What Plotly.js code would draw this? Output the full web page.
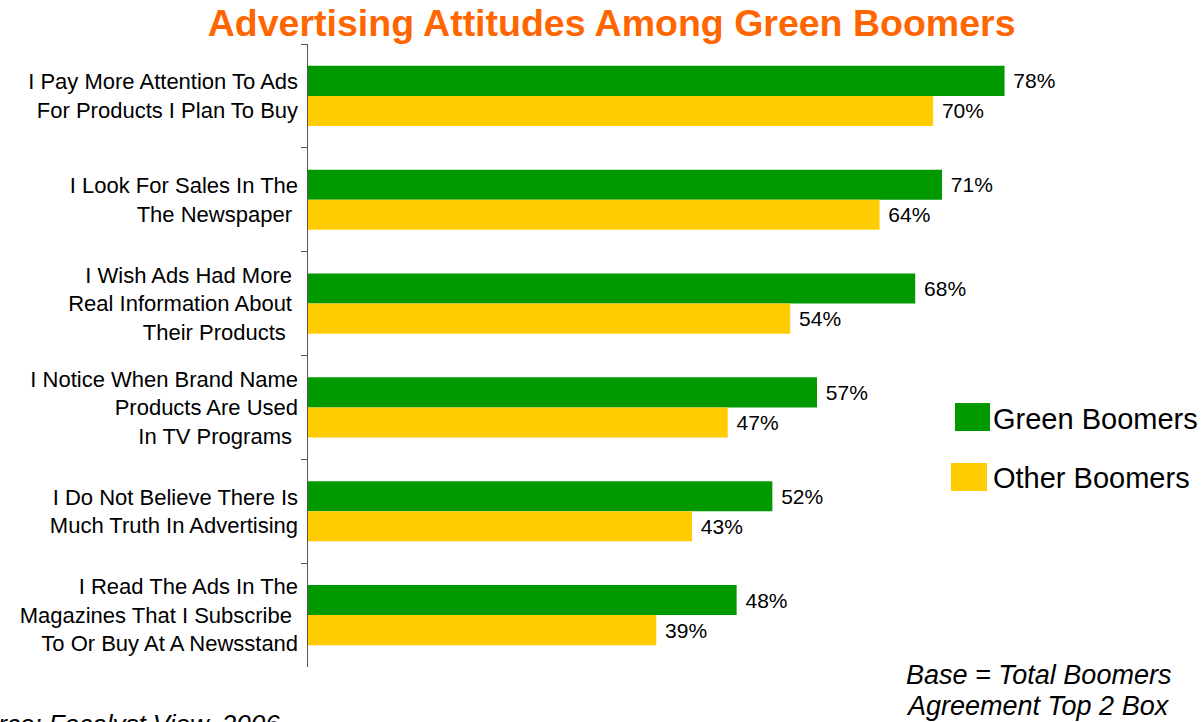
<!DOCTYPE html>
<html>
<head>
<meta charset="utf-8">
<script src="https://cdn.plot.ly/plotly-3.0.1.min.js"></script>
<style>html,body{margin:0;padding:0;background:#fff;}#chart{width:1204px;height:722px;}</style>
</head>
<body>
<div id="chart"></div>
<script>
const NB = '\u00a0';
const categories = [
  'I Pay More Attention To Ads<br>For Products I Plan To Buy',
  'I Look For Sales In The<br>The Newspaper' + NB,
  'I Wish Ads Had More' + NB + '<br>Real Information About' + NB + '<br>Their Products' + NB + NB,
  'I Notice When Brand Name<br>Products Are Used<br>In TV Programs' + NB,
  'I Do Not Believe There Is<br>Much Truth In Advertising',
  'I Read The Ads In The<br>Magazines That I Subscribe' + NB + '<br>To Or Buy At A Newsstand'
];
const greenBoomers = [78, 71, 68, 57, 52, 48];
const otherBoomers = [70, 64, 54, 47, 43, 39];
const seriesNames = ['Green Boomers', 'Other Boomers'];
const seriesColors = ['#009900', '#FFCC00'];
const titleText = 'Advertising Attitudes Among Green Boomers';
const noteLines = ['Base = Total Boomers', 'Agreement Top 2 Box'];
const sourceText = 'Source: Focalyst View, 2006';

const W = 1204, H = 722;
const M = {l: 308, r: 3, t: 44, b: 55};
const pw = W - M.l - M.r, ph = H - M.t - M.b;
const px = x => (x - M.l) / pw;
const py = y => 1 - (y - M.t) / ph;

const font = 'Arial, "Liberation Sans", sans-serif';

const traces = [greenBoomers, otherBoomers].map((vals, i) => ({
  type: 'bar',
  orientation: 'h',
  name: seriesNames[i],
  x: vals,
  y: categories,
  marker: {color: seriesColors[i], line: {width: 0}},
  text: vals.map(v => NB + v + '%'),
  textposition: 'outside',
  textfont: {family: font, size: 21, color: '#000'},
  constraintext: 'none',
  cliponaxis: false,
  hoverinfo: 'skip',
  showlegend: false
}));

const shapes = [];
const annotations = [];
const legendBoxes = [
  {x0: 955, x1: 990, y0: 403, y1: 431, ty: 419},
  {x0: 951, x1: 987, y0: 463, y1: 491, ty: 478}
];
seriesNames.forEach((n, i) => {
  const b = legendBoxes[i];
  shapes.push({type: 'rect', xref: 'paper', yref: 'paper',
    x0: px(b.x0), x1: px(b.x1), y0: py(b.y1), y1: py(b.y0),
    fillcolor: seriesColors[i], line: {width: 0}});
  annotations.push({xref: 'paper', yref: 'paper', x: px(991), y: py(b.ty),
    xanchor: 'left', yanchor: 'middle', text: n, showarrow: false,
    font: {family: font, size: 29, color: '#000'}});
});
noteLines.forEach((t, i) => {
  annotations.push({xref: 'paper', yref: 'paper', x: px(904), y: py(675 + i * 31),
    xanchor: 'left', yanchor: 'middle', text: '<i>' + t + '</i>', showarrow: false,
    font: {family: font, size: 27, color: '#000'}});
});
annotations.push({xref: 'paper', yref: 'paper', x: px(282), y: py(707),
  xanchor: 'right', yanchor: 'top', text: '<i>' + sourceText + '</i>', showarrow: false,
  font: {family: font, size: 26, color: '#000'}});

const layout = {
  width: W, height: H,
  margin: M,
  paper_bgcolor: '#fff', plot_bgcolor: '#fff',
  title: {text: '<b>' + titleText + '</b>', x: 0.508, xanchor: 'center',
    y: 1 - 23 / H, yanchor: 'middle', yref: 'container',
    font: {family: font, size: 37.5, color: '#FF6600'}},
  barmode: 'group',
  bargap: 0.42,
  bargroupgap: 0,
  xaxis: {range: [0, 100], visible: false, fixedrange: true},
  yaxis: {type: 'category', autorange: 'reversed', showline: true, linecolor: '#555',
    linewidth: 1.5, ticks: 'outside', tickson: 'boundaries', ticklen: 6, tickcolor: '#555',
    ticklabelstandoff: 4,
    tickfont: {family: font, size: 22, color: '#000'}, showgrid: false, zeroline: false,
    fixedrange: true},
  shapes: shapes,
  annotations: annotations,
  showlegend: false
};

Plotly.newPlot('chart', traces, layout, {displayModeBar: false, staticPlot: true});
</script>
</body>
</html>
